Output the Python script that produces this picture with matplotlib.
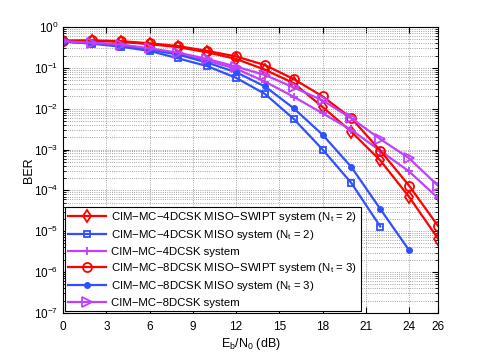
import matplotlib
matplotlib.use('Agg')
import matplotlib.pyplot as plt
import numpy as np

plt.rcParams['font.family'] = ['Liberation Sans', 'DejaVu Sans']
plt.rcParams['mathtext.fontset'] = 'custom'
plt.rcParams['mathtext.rm'] = 'Liberation Sans'
plt.rcParams['mathtext.it'] = 'Liberation Sans:italic'

snr = [0, 2, 4, 6, 8, 10, 12, 14, 16, 18, 20, 22, 24, 26]

ber_4dcsk_swipt = [0.46, 0.46, 0.43, 0.38, 0.32, 0.24, 0.165, 0.090, 0.042, 0.011, 2.7e-3, 5.4e-4, 6.9e-5, 6.6e-6]
ber_4dcsk_miso = [0.44, 0.39, 0.33, 0.26, 0.17, 0.11, 0.057, 0.023, 5.6e-3, 1.0e-3, 1.5e-4, 1.3e-5]
ber_4dcsk = [0.44, 0.41, 0.37, 0.29, 0.22, 0.15, 0.095, 0.046, 0.0195, 7.7e-3, 3.0e-3, 9.3e-4, 2.9e-4, 6.5e-5]
ber_8dcsk_swipt = [0.46, 0.47, 0.45, 0.40, 0.34, 0.26, 0.19, 0.117, 0.053, 0.020, 5.8e-3, 9.4e-4, 1.3e-4, 1.35e-5]
ber_8dcsk_miso = [0.44, 0.40, 0.35, 0.28, 0.21, 0.134, 0.078, 0.035, 0.0102, 2.3e-3, 3.7e-4, 3.5e-5, 3.4e-6]
ber_8dcsk = [0.45, 0.41, 0.37, 0.30, 0.235, 0.165, 0.107, 0.067, 0.033, 0.016, 5.8e-3, 1.8e-3, 6.1e-4, 1.3e-4]

labels = [
    'CIM\u2212MC\u22124DCSK MISO\u2212SWIPT system (N$\\mathregular{_t}$ = 2)',
    'CIM\u2212MC\u22124DCSK MISO system (N$\\mathregular{_t}$ = 2)',
    'CIM\u2212MC\u22124DCSK system',
    'CIM\u2212MC\u22128DCSK MISO\u2212SWIPT system (N$\\mathregular{_t}$ = 3)',
    'CIM\u2212MC\u22128DCSK MISO system (N$\\mathregular{_t}$ = 3)',
    'CIM\u2212MC\u22128DCSK system',
]

red = '#ff0000'
blue = '#3050ff'
purple = '#bf40ff'

fig = plt.figure(figsize=(4.85, 3.6), dpi=100)
ax = fig.add_axes([0.130, 0.131, 0.773, 0.794])

lw = 1.6
ax.semilogy(snr[:len(ber_4dcsk_swipt)], ber_4dcsk_swipt, '-d', color=red, mfc='none', mew=1.3, ms=6, lw=lw, label=labels[0])
ax.semilogy(snr[:len(ber_4dcsk_miso)], ber_4dcsk_miso, '-s', color=blue, mfc='none', mew=1.3, ms=5, lw=lw, label=labels[1])
ax.semilogy(snr[:len(ber_4dcsk)], ber_4dcsk, '-+', color=purple, mew=1.3, ms=6, lw=lw, label=labels[2])
ax.semilogy(snr[:len(ber_8dcsk_swipt)], ber_8dcsk_swipt, '-o', color=red, mfc='none', mew=1.3, ms=6.5, lw=lw, label=labels[3])
ax.semilogy(snr[:len(ber_8dcsk_miso)], ber_8dcsk_miso, '-o', color=blue, ms=4, lw=lw, label=labels[4])
ax.semilogy(snr[:len(ber_8dcsk)], ber_8dcsk, '->', color=purple, mfc='none', mew=1.3, ms=6.5, lw=lw, label=labels[5])

ax.set_xlim(0, 26)
ax.set_ylim(1e-7, 1)
ax.set_xticks([0, 3, 6, 9, 12, 15, 18, 21, 24, 26])
ax.set_yticks([10.0 ** k for k in range(-7, 1)])
ax.tick_params(which='both', direction='in', top=True, right=True, labelsize=8.5)
ax.tick_params(which='major', length=4)
ax.tick_params(which='minor', length=2)
ax.tick_params(axis='x', pad=6)
ax.grid(True, which='major', linestyle=':', color='#888888', linewidth=0.6)
ax.grid(True, which='minor', axis='y', linestyle=':', color='#888888', linewidth=0.6)
for s in ax.spines.values():
    s.set_linewidth(0.8)

ax.set_xlabel('E$\\mathregular{_b}$/N$\\mathregular{_0}$ (dB)', fontsize=9, labelpad=2)
ax.set_ylabel('BER', fontsize=9, labelpad=-1)

leg = ax.legend(loc='lower left', fontsize=8.2, handlelength=3.3, borderaxespad=0.15,
                fancybox=False, framealpha=1, edgecolor='black', labelspacing=0.38,
                borderpad=0.3, handletextpad=0.5)
leg.get_frame().set_linewidth(0.8)

fig.savefig('out.png', dpi=100)
